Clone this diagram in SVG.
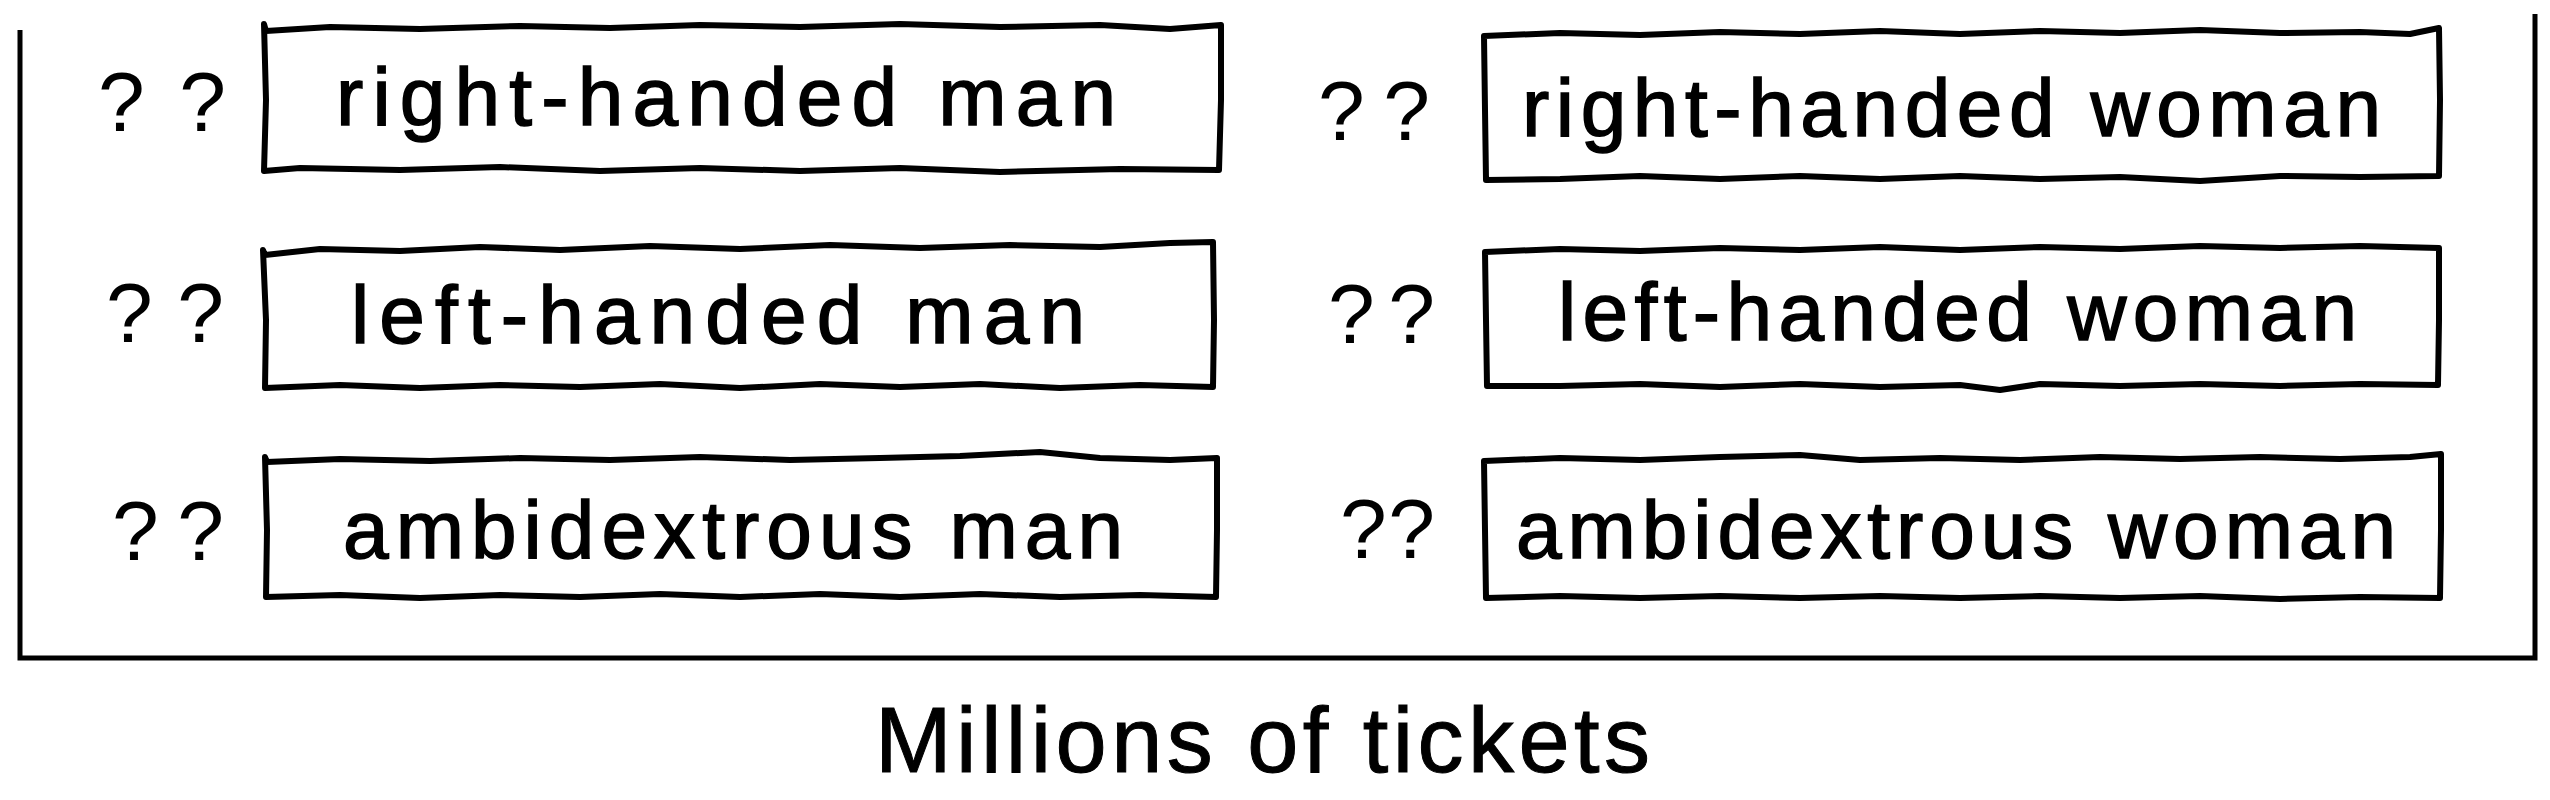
<svg xmlns="http://www.w3.org/2000/svg" width="2550" height="800" viewBox="0 0 2550 800">
<style>
.bg{fill:#ffffff}
.box{fill:none;stroke:#000;stroke-width:6;stroke-linejoin:round;stroke-linecap:round}
.frame{fill:none;stroke:#000;stroke-width:5;stroke-linejoin:miter}
.lbl{font-family:"Liberation Sans",Arial,sans-serif;font-size:82px;fill:#000;stroke:#000;stroke-width:1.5}
.q{font-family:"Liberation Sans",Arial,sans-serif;font-size:84px;fill:#000}
.title{font-family:"Liberation Sans",Arial,sans-serif;font-size:92px;fill:#000;stroke:#000;stroke-width:1}
</style>
<rect class="bg" x="0" y="0" width="2550" height="800"/>
<g id="frame">
<path class="frame" d="M20,30 L20,658 L2535,658 L2535,14"/>
</g>
<g id="node-right-handed-man">
<text class="q" x="98" y="131" textLength="128" lengthAdjust="spacing">? ?</text>
<path class="box" d="M264,24 L266,31 L330,27 L420,29 L520,26 L610,28 L700,25 L800,27 L900,24 L1000,27 L1100,25 L1170,29 L1221,25 L1221,100 L1219,170 L1120,169 L1000,172 L900,168 L800,171 L700,168 L600,171 L500,167 L400,170 L300,168 L264,171 L266,100 Z"/>
<text class="lbl" x="336" y="125" textLength="780" lengthAdjust="spacing">right-handed man</text>
</g>
<g id="node-left-handed-man">
<text class="q" x="106" y="342" textLength="118" lengthAdjust="spacing">? ?</text>
<path class="box" d="M263,250 L265,255 L320,249 L400,251 L480,247 L560,250 L650,246 L740,249 L830,245 L920,248 L1010,245 L1100,247 L1170,243 L1213,242 L1214,320 L1213,387 L1140,385 L1060,388 L980,384 L900,387 L820,384 L740,388 L660,384 L580,387 L500,385 L420,388 L340,385 L265,388 L266,320 Z"/>
<text class="lbl" x="351" y="343" textLength="734" lengthAdjust="spacing">left-handed man</text>
</g>
<g id="node-ambidextrous-man">
<text class="q" x="112" y="560" textLength="112" lengthAdjust="spacing">? ?</text>
<path class="box" d="M265,457 L267,462 L340,459 L430,461 L520,458 L610,460 L700,457 L790,460 L880,458 L960,456 L1040,452 L1100,458 L1170,460 L1217,458 L1217,530 L1216,597 L1140,595 L1060,597 L980,594 L900,597 L820,594 L740,597 L660,594 L580,597 L500,595 L420,598 L340,595 L266,597 L267,530 Z"/>
<text class="lbl" x="343" y="558" textLength="780" lengthAdjust="spacing">ambidextrous man</text>
</g>
<g id="node-right-handed-woman">
<text class="q" x="1318" y="140" textLength="112" lengthAdjust="spacing">??</text>
<path class="box" d="M1484,36 L1560,33 L1640,35 L1720,32 L1800,34 L1880,31 L1960,34 L2040,31 L2120,33 L2200,30 L2280,33 L2360,32 L2410,34 L2439,28 L2440,100 L2439,176 L2360,177 L2280,176 L2200,181 L2120,177 L2040,179 L1960,176 L1880,179 L1800,176 L1720,179 L1640,176 L1560,179 L1486,180 L1485,110 Z"/>
<text class="lbl" x="1522" y="136" textLength="859" lengthAdjust="spacing">right-handed woman</text>
</g>
<g id="node-left-handed-woman">
<text class="q" x="1328" y="343" textLength="107" lengthAdjust="spacing">??</text>
<path class="box" d="M1485,252 L1560,249 L1640,251 L1720,248 L1800,250 L1880,247 L1960,250 L2040,247 L2120,249 L2200,246 L2280,248 L2360,246 L2439,248 L2439,320 L2438,385 L2360,384 L2280,386 L2200,384 L2120,386 L2040,384 L2000,390 L1960,385 L1880,387 L1800,384 L1720,387 L1640,384 L1560,386 L1487,386 L1486,320 Z"/>
<text class="lbl" x="1558" y="340" textLength="799" lengthAdjust="spacing">left-handed woman</text>
</g>
<g id="node-ambidextrous-woman">
<text class="q" x="1340" y="558" textLength="95" lengthAdjust="spacing">??</text>
<path class="box" d="M1484,461 L1560,458 L1640,460 L1720,457 L1800,455 L1860,460 L1940,458 L2020,460 L2100,457 L2180,459 L2260,457 L2340,459 L2410,457 L2441,454 L2441,530 L2440,598 L2360,597 L2280,599 L2200,596 L2120,598 L2040,596 L1960,598 L1880,596 L1800,598 L1720,596 L1640,598 L1560,596 L1486,598 L1485,530 Z"/>
<text class="lbl" x="1516" y="558" textLength="880" lengthAdjust="spacing">ambidextrous woman</text>
</g>
<g id="caption">
<text class="title" x="875" y="772" textLength="775" lengthAdjust="spacing">Millions of tickets</text>
</g>
</svg>
